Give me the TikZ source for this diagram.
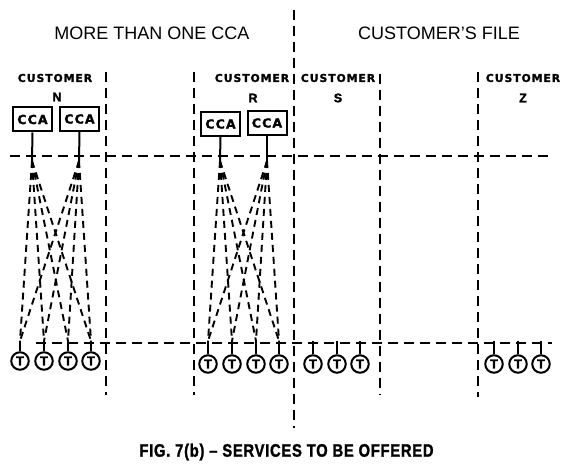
\documentclass[tikz,border=0pt]{standalone}
\usepackage{fontspec}
\setmainfont{Liberation Sans}
\newfontfamily\custfont[LetterSpace=9,FakeBold=1.5]{DejaVu Sans}
\newfontfamily\heavyfont[FakeBold=1.5]{Liberation Sans}
\newfontfamily\capfont[LetterSpace=5,FakeBold=1.5]{Liberation Sans}
\begin{document}
\begin{tikzpicture}[x=1pt,y=-1pt,
  divider/.style={line width=2pt,dash pattern=on 10pt off 6pt},
  feed/.style={line width=1.9pt,dash pattern=on 7pt off 5pt},
  stub/.style={line width=2pt},
  ccabox/.style={draw,line width=2pt,minimum width=39pt,minimum height=24pt,inner sep=0pt,font=\custfont\bfseries\fontsize{12.5}{13}\selectfont},
  term/.style={draw,circle,line width=2pt,minimum size=17.5pt,inner sep=0pt,font=\heavyfont\bfseries\fontsize{13}{14}\selectfont},
  headtext/.style={font=\fontsize{18}{20}\selectfont},
  custlabel/.style={font=\custfont\bfseries\fontsize{10.8}{12}\selectfont,inner sep=0pt},
  letterlabel/.style={font=\heavyfont\bfseries\fontsize{12.5}{13}\selectfont,inner sep=0pt},
  captiontext/.style={font=\capfont\bfseries\fontsize{18}{20}\selectfont,inner sep=0pt}]
\useasboundingbox (0,0) rectangle (565,465);
\fill[white] (0,0) rectangle (565,465);
% headings
\node[headtext] (h1) at (152,33) {MORE THAN ONE CCA};
\node[headtext] (h2) at (439,33) {CUSTOMER'S FILE};
\node[custlabel] (c1) at (55,78) {CUSTOMER};
\node[custlabel] (c2) at (252,78) {CUSTOMER};
\node[custlabel] (c3) at (338,78) {CUSTOMER};
\node[custlabel] (c4) at (523,78) {CUSTOMER};
\node[letterlabel] (ln) at (57,97) {N};
\node[letterlabel] (lr) at (253,98) {R};
\node[letterlabel] (ls) at (338,98) {S};
\node[letterlabel] (lz) at (523,98) {Z};
\node[captiontext] (cap) at (286.5,452) {\scalebox{0.82}[1]{FIG. 7(b) – SERVICES TO BE OFFERED}};
% dividers
\coordinate (v1a) at (106,72); \coordinate (v1b) at (106,395);
\coordinate (v2a) at (194,72); \coordinate (v2b) at (194,395);
\coordinate (v3a) at (294,10); \coordinate (v3b) at (294,428);
\coordinate (v4a) at (380,74); \coordinate (v4b) at (380,395);
\coordinate (v5a) at (478,72); \coordinate (v5b) at (478,397);
\coordinate (h1a) at (10,156); \coordinate (h1b) at (552,156);
\coordinate (h2a) at (36,343); \coordinate (h2b) at (552,343);
\foreach \a/\b in {v1a/v1b,v2a/v2b,v3a/v3b,v4a/v4b,v5a/v5b,h1a/h1b,h2a/h2b}
  \draw[divider] (\a) -- (\b);
% CCA boxes
\node[ccabox] (n1) at (32.5,119.5) {CCA};
\node[ccabox] (n2) at (79.5,119) {CCA};
\node[ccabox] (r1) at (220.5,124) {CCA};
\node[ccabox] (r2) at (267,123) {CCA};
\coordinate (nh1) at (32,161); \coordinate (nh2) at (79,161);
\coordinate (rh1) at (220,161); \coordinate (rh2) at (267,161);
\draw[stub] (n1.south) -- (nh1);
\draw[stub] (n2.south) -- (nh2);
\draw[stub] (r1.south) -- (rh1);
\draw[stub] (r2.south) -- (rh2);
% terminals
\foreach \name/\x/\y in {na/20/361,nb/44/361,nc/68/361,nd/91/361,
    ra/208/364,rb/232/364,rc/256/364,rd/279/364,
    sa/313/364,sb/337/364,sc/360/364,
    za/494/364,zb/518/364,zc/541/364}{
  \node[term] (\name) at (\x,\y) {T};
  \coordinate (\name t) at (\x,341);
  \draw[stub] (\name.north) -- (\name t);
}
% feeds
\foreach \f in {nh1,nh2}
  \foreach \t in {nat,nbt,nct,ndt}
    \draw[feed] (\f) -- (\t);
\foreach \f in {rh1,rh2}
  \foreach \t in {rat,rbt,rct,rdt}
    \draw[feed] (\f) -- (\t);
\end{tikzpicture}
\end{document}
